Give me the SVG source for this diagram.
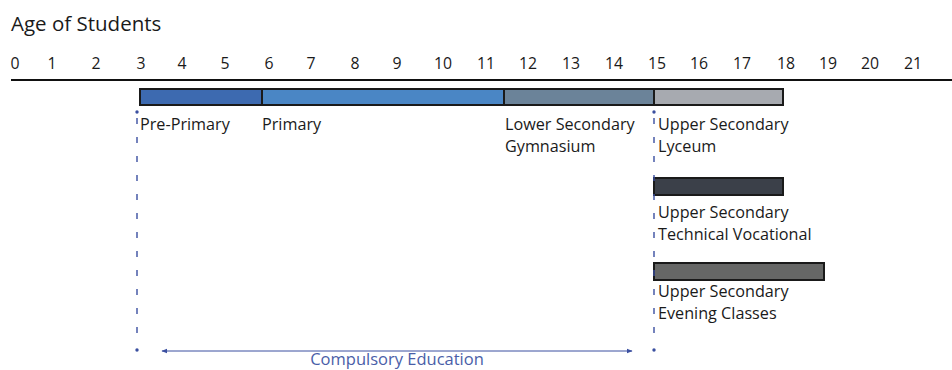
<svg xmlns="http://www.w3.org/2000/svg" width="952" height="370" viewBox="0 0 952 370">
<style>
text{font-family:"Open Sans","DejaVu Sans",sans-serif;fill:#1a1a1a}
.t{font-size:16.2px}
.tick{font-size:15.8px;text-anchor:middle}
.bar{stroke:#1a1a1a;stroke-width:2}
.dash{stroke:#3a4fa0;stroke-width:1.4;stroke-dasharray:6 13;fill:none}
.blue{fill:#4a5ea8}
</style>
<defs>
<marker id="ah" viewBox="0 0 10 10" refX="9" refY="5" markerWidth="6" markerHeight="6" orient="auto-start-reverse">
<path d="M0,1 L10,5 L0,9 z" fill="#3a4fa0"/>
</marker>
</defs>
<rect width="952" height="370" fill="#fff"/>
<text x="11" y="31" style="font-size:20.5px">Age of Students</text>
<g id="axis">
<line x1="11" y1="80" x2="952" y2="80" stroke="#111" stroke-width="2"/>
<text class="tick" y="69"><tspan x="15">0</tspan><tspan x="52">1</tspan><tspan x="96">2</tspan><tspan x="141">3</tspan><tspan x="182">4</tspan><tspan x="225">5</tspan><tspan x="269">6</tspan><tspan x="311">7</tspan><tspan x="355">8</tspan><tspan x="397">9</tspan><tspan x="443">10</tspan><tspan x="486">11</tspan><tspan x="528">12</tspan><tspan x="571">13</tspan><tspan x="614">14</tspan><tspan x="657">15</tspan><tspan x="699">16</tspan><tspan x="742">17</tspan><tspan x="786">18</tspan><tspan x="828">19</tspan><tspan x="870">20</tspan><tspan x="913">21</tspan></text>
</g>
<g id="pre-primary">
<rect class="bar" x="140" y="89" width="122" height="16" fill="#3d6ab0"/>
<text class="t" x="140" y="130">Pre-Primary</text>
</g>
<g id="primary">
<rect class="bar" x="262" y="89" width="242" height="16" fill="#4a86c5"/>
<text class="t" x="262" y="130">Primary</text>
</g>
<g id="lower-secondary">
<rect class="bar" x="504" y="89" width="150" height="16" fill="#6b8399"/>
<text class="t" x="505" y="130">Lower Secondary</text>
<text class="t" x="505" y="152">Gymnasium</text>
</g>
<g id="upper-lyceum">
<rect class="bar" x="654" y="89" width="129" height="16" fill="#a7aab0"/>
<text class="t" x="658" y="130">Upper Secondary</text>
<text class="t" x="658" y="152">Lyceum</text>
</g>
<g id="upper-technical">
<rect class="bar" x="654" y="178" width="129" height="17" fill="#3b4049"/>
<text class="t" x="658" y="218">Upper Secondary</text>
<text class="t" x="658" y="240">Technical Vocational</text>
</g>
<g id="upper-evening">
<rect class="bar" x="654" y="263" width="170" height="17" fill="#666766"/>
<text class="t" x="658" y="297">Upper Secondary</text>
<text class="t" x="658" y="319">Evening Classes</text>
</g>
<g id="connectors">
<line class="dash" x1="137" y1="118" x2="137" y2="346"/>
<circle cx="137" cy="112" r="1.7" fill="#3a4fa0"/>
<circle cx="137" cy="350" r="1.7" fill="#3a4fa0"/>
<line class="dash" x1="654" y1="118" x2="654" y2="346"/>
<circle cx="654" cy="112" r="1.7" fill="#3a4fa0"/>
<circle cx="654" cy="350" r="1.7" fill="#3a4fa0"/>
<line x1="162" y1="351" x2="632" y2="351" stroke="#3a4fa0" stroke-width="1" marker-start="url(#ah)" marker-end="url(#ah)"/>
</g>
<g id="compulsory">
<text class="blue" x="397" y="365" text-anchor="middle" style="font-size:16.5px;fill:#4a5ea8">Compulsory Education</text>
</g>
</svg>
